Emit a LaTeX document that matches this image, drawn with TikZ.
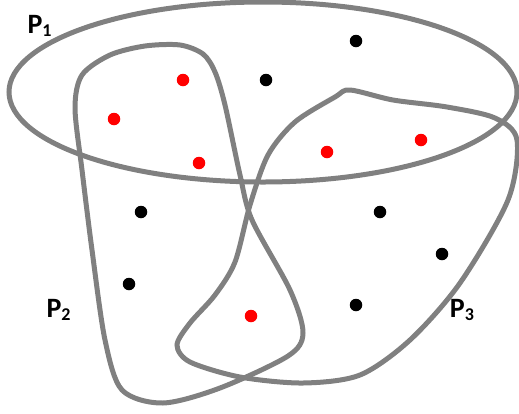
\documentclass[tikz,border=0pt]{standalone}
\usepackage{fontspec}
\setmainfont{Carlito}
\newcommand{\subsetname}[1]{P\raisebox{-2.8pt}{\fontsize{18}{18}\selectfont #1}}

\begin{document}
\begin{tikzpicture}[x=1pt, y=-1pt,
        region/.style = {draw=gray, line width=5pt},
        dot/.style = {circle, inner sep=0pt, minimum size=12.5pt},
        reddot/.style = {dot, fill=red},
        blackdot/.style = {dot, fill=black},
        partlabel/.style = {font=\bfseries\fontsize{28}{30}\selectfont, inner sep=0pt, anchor=base west}
    ]
    \useasboundingbox (0,0) rectangle (519,413);
    % the three parts
    \draw[region] (263,92) ellipse [x radius=254pt, y radius=90pt];
    \draw[region] plot[smooth cycle] coordinates {(75,108) (82,75) (110,55) (145,46) (180,45) (203,54) (215,72)
        (225,105) (240,175) (252,220) (290,290) (303,333) (288,356) (220,388) (163,403) (122,390) (105,340)
        (92,250) (82,170)};
    \draw[region] plot[smooth cycle] coordinates {(350,90) (393,100) (447,107) (495,118) (517,140) (508,200)
        (460,283) (410,340) (360,375) (303,383) (240,377) (190,362) (177,345) (190,323) (215,295) (235,262)
        (250,205) (268,155) (295,122) (335,97)};
    % labels
    \node[partlabel] (p1) at (27.3,33.3) {\subsetname{1}};
    \node[partlabel] (p2) at (46.3,317.3) {\subsetname{2}};
    \node[partlabel] (p3) at (449.7,317.3) {\subsetname{3}};
    % points
    \node[reddot] (r1) at (183,80) {};
    \node[reddot] (r2) at (114,119) {};
    \node[reddot] (r3) at (199,163) {};
    \node[reddot] (r4) at (327,152) {};
    \node[reddot] (r5) at (421,140) {};
    \node[reddot] (r6) at (251,316) {};
    \node[blackdot] (b1) at (356,41) {};
    \node[blackdot] (b2) at (266,80) {};
    \node[blackdot] (b3) at (141,212) {};
    \node[blackdot] (b4) at (129,284) {};
    \node[blackdot] (b5) at (380,212) {};
    \node[blackdot] (b6) at (442,254) {};
    \node[blackdot] (b7) at (356,305) {};
\end{tikzpicture}
\end{document}
